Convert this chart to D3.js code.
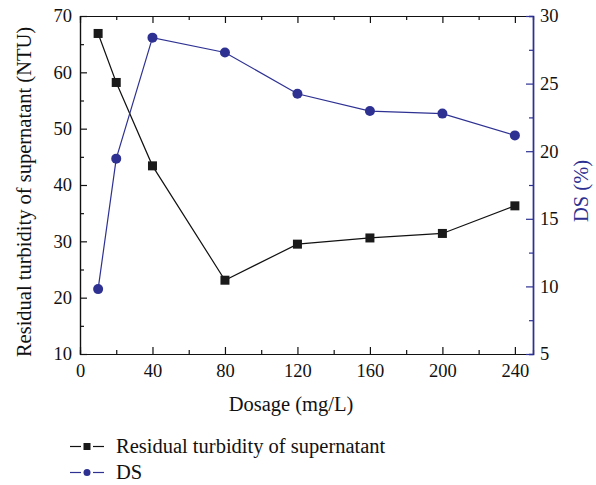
<!DOCTYPE html>
<html>
<head>
<meta charset="utf-8">
<script src="https://cdn.jsdelivr.net/npm/d3@7"></script>
<style>
  body { margin: 0; background: #fff; }
  svg text { font-family: "Liberation Serif", "DejaVu Serif", serif; }
</style>
</head>
<body>
<div id="chart"></div>
<script>
const dosage = [10, 20, 40, 80, 120, 160, 200, 240];
const turbidity = [66.9, 58.2, 43.4, 23.1, 29.5, 30.6, 31.4, 36.3];
const ds = [9.8, 19.45, 28.4, 27.3, 24.25, 22.97, 22.78, 21.17];
const xTicks = [0, 40, 80, 120, 160, 200, 240];
const leftTicks = [10, 20, 30, 40, 50, 60, 70];
const rightTicks = [5, 10, 15, 20, 25, 30];

const blue = "#2e3192";
const width = 596, height = 485;
const margin = { top: 16, right: 63, bottom: 131, left: 80 };
const w = width - margin.left - margin.right;
const h = height - margin.top - margin.bottom;

const svg = d3.select("#chart").append("svg")
  .attr("width", width).attr("height", height);
const g = svg.append("g").attr("transform", `translate(${margin.left},${margin.top})`);

const x = d3.scaleLinear().domain([0, 250]).range([0, w]);
const yL = d3.scaleLinear().domain([10, 70]).range([h, 0]);
const yR = d3.scaleLinear().domain([5, 30]).range([h, 0]);

// minor ticks first
function minor(axis, vals) {
  return axis.tickValues(vals).tickSize(4).tickFormat("");
}
const minorX = d3.range(20, 250, 40);
const minorL = d3.range(15, 70, 10);
const minorR = d3.range(7.5, 30, 5);

g.append("g").attr("transform", `translate(0,${h})`)
  .call(minor(d3.axisTop(x), minorX));
g.append("g").call(minor(d3.axisBottom(x), minorX));
g.append("g").call(minor(d3.axisRight(yL), minorL));
g.append("g").attr("class", "rminor").attr("transform", `translate(${w},0)`)
  .call(minor(d3.axisLeft(yR), minorR));

// major axes
g.append("g").attr("transform", `translate(0,${h})`)
  .call(d3.axisBottom(x).tickValues(xTicks).tickSizeInner(-7).tickSizeOuter(0).tickPadding(10));
g.append("g")
  .call(d3.axisTop(x).tickValues(xTicks).tickSizeInner(-7).tickSizeOuter(0).tickFormat(""));
g.append("g")
  .call(d3.axisLeft(yL).tickValues(leftTicks).tickSizeInner(-7).tickSizeOuter(0).tickPadding(8));
g.append("g").attr("class", "raxis").attr("transform", `translate(${w},0)`)
  .call(d3.axisRight(yR).tickValues(rightTicks).tickSizeInner(-7).tickSizeOuter(0).tickPadding(7));

g.selectAll(".tick text").attr("font-size", 18.5).attr("fill", "#111");
g.selectAll(".domain, .tick line").attr("stroke", "#111").attr("stroke-width", 1.2);
g.selectAll(".raxis .domain, .raxis .tick line, .rminor .domain, .rminor .tick line").attr("stroke", blue);
g.select(".rminor .domain").attr("stroke-width", 1.6);

// lines
const lineT = d3.line().x((d, i) => x(dosage[i])).y(d => yL(d));
const lineD = d3.line().x((d, i) => x(dosage[i])).y(d => yR(d));

g.append("path").datum(turbidity).attr("d", lineT)
  .attr("fill", "none").attr("stroke", "#111").attr("stroke-width", 1.2);
g.append("path").datum(ds).attr("d", lineD)
  .attr("fill", "none").attr("stroke", blue).attr("stroke-width", 1.2);

g.selectAll(".sq").data(turbidity).enter().append("rect")
  .attr("x", (d, i) => x(dosage[i]) - 4.5).attr("y", d => yL(d) - 4.5)
  .attr("width", 9).attr("height", 9).attr("fill", "#1a1a1a");
g.selectAll(".dot").data(ds).enter().append("circle")
  .attr("cx", (d, i) => x(dosage[i])).attr("cy", d => yR(d))
  .attr("r", 5).attr("fill", blue);

// titles
svg.append("text").attr("x", 291).attr("y", 411).attr("text-anchor", "middle")
  .attr("font-size", 20.5).attr("fill", "#111").text("Dosage (mg/L)");
svg.append("text").attr("transform", "translate(31,192) rotate(-90)")
  .attr("text-anchor", "middle").attr("font-size", 20.5).attr("fill", "#111")
  .text("Residual turbidity of supernatant (NTU)");
svg.append("text").attr("transform", "translate(588,191) rotate(-90)")
  .attr("text-anchor", "middle").attr("font-size", 20.5).attr("fill", blue)
  .text("DS (%)");

// legend
const legend = [
  { label: "Residual turbidity of supernatant", color: "#111", shape: "square", y: 446.5 },
  { label: "DS", color: blue, shape: "circle", y: 472.5 }
];
legend.forEach(l => {
  const lg = svg.append("g");
  lg.append("line").attr("x1", 70).attr("x2", 81).attr("y1", l.y).attr("y2", l.y)
    .attr("stroke", l.color).attr("stroke-width", 1.2);
  lg.append("line").attr("x1", 93).attr("x2", 104).attr("y1", l.y).attr("y2", l.y)
    .attr("stroke", l.color).attr("stroke-width", 1.2);
  if (l.shape === "square") {
    lg.append("rect").attr("x", 83.5).attr("y", l.y - 3.5).attr("width", 7).attr("height", 7).attr("fill", "#1a1a1a");
  } else {
    lg.append("circle").attr("cx", 87).attr("cy", l.y).attr("r", 3.5).attr("fill", l.color);
  }
  lg.append("text").attr("x", 116).attr("y", l.y + 6).attr("font-size", 20.5)
    .attr("fill", "#111").text(l.label);
});
</script>
</body>
</html>
